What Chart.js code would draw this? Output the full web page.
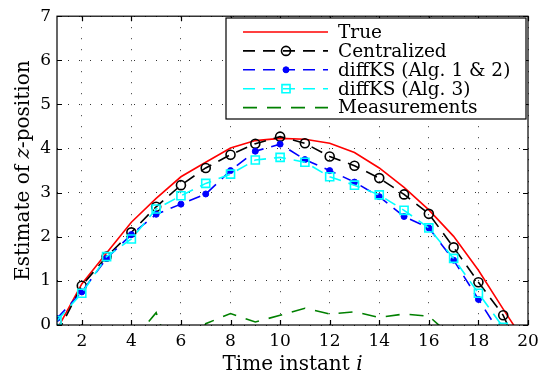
<!DOCTYPE html>
<html>
<head>
<meta charset="utf-8">
<script src="https://cdn.jsdelivr.net/npm/chart.js@4.4.0/dist/chart.umd.min.js"></script>
<style>
body { margin: 0; background: #fff; }
#wrap { width: 546px; height: 376px; }
</style>
</head>
<body>
<div id="wrap"><canvas id="myChart"></canvas></div>
<script>
// time instants and estimates
const steps = [1, 2, 3, 4, 5, 6, 7, 8, 9, 10, 11, 12, 13, 14, 15, 16, 17, 18, 19, 20]
const trueZ = [-0.1, 0.93, 1.63, 2.33, 2.87, 3.36, 3.69, 4.01, 4.18, 4.23, 4.21, 4.12, 3.91, 3.56, 3.12, 2.61, 2.01, 1.24, 0.36, -0.5]
const centralized = [-0.2, 0.89, 1.55, 2.10, 2.68, 3.17, 3.56, 3.86, 4.11, 4.27, 4.12, 3.82, 3.61, 3.33, 2.96, 2.52, 1.76, 0.97, 0.22, -1.0]
const diffKS12 = [0.15, 0.75, 1.51, 2.05, 2.51, 2.74, 2.97, 3.50, 3.94, 4.10, 3.75, 3.50, 3.24, 2.91, 2.46, 2.20, 1.47, 0.58, -0.3, -1.1]
const diffKS3 = [0.10, 0.72, 1.55, 1.95, 2.63, 2.93, 3.21, 3.42, 3.74, 3.80, 3.69, 3.36, 3.17, 2.95, 2.60, 2.20, 1.51, 0.72, -0.05, -0.9]
const measurements = [-0.6, -1.1, -0.9, -0.4, 0.28, -1.3, 0.03, 0.26, 0.07, 0.22, 0.38, 0.25, 0.30, 0.17, 0.25, 0.20, -0.3, -0.9, -1.2, -1.0]

const xTicks = [2, 4, 6, 8, 10, 12, 14, 16, 18, 20]
const yTicks = [0, 1, 2, 3, 4, 5, 6, 7]

const serif = '"DejaVu Serif", serif'
const pts = (vals) => steps.map((s, i) => ({ x: s, y: vals[i] }))
const dash = [12, 8]

// box round the axes with inward tick marks, like matlab
const frameTicks = {
    id: 'frameTicks',
    afterDatasetsDraw(chart) {
        const { ctx, chartArea: a, scales: { x, y } } = chart
        ctx.save()
        ctx.strokeStyle = '#000'
        ctx.lineWidth = 1.2
        ctx.strokeRect(a.left, a.top, a.right - a.left, a.bottom - a.top)
        ctx.beginPath()
        xTicks.forEach(v => {
            const px = Math.round(x.getPixelForValue(v)) + 0.5
            ctx.moveTo(px, a.bottom); ctx.lineTo(px, a.bottom - 5)
            ctx.moveTo(px, a.top); ctx.lineTo(px, a.top + 5)
        })
        yTicks.forEach(v => {
            const py = Math.round(y.getPixelForValue(v)) + 0.5
            ctx.moveTo(a.left, py); ctx.lineTo(a.left + 5, py)
            ctx.moveTo(a.right, py); ctx.lineTo(a.right - 5, py)
        })
        ctx.stroke()
        ctx.restore()
    }
}

// legend box inside the axes + axis titles with italic symbols
const boxLegend = {
    id: 'boxLegend',
    afterDraw(chart) {
        const { ctx } = chart
        const bx = 226, by = 18, bw = 300, bh = 101
        ctx.save()
        ctx.fillStyle = '#fff'
        ctx.fillRect(bx, by, bw, bh)
        ctx.strokeStyle = '#000'
        ctx.lineWidth = 1.2
        ctx.strokeRect(bx, by, bw, bh)

        ctx.font = '18.5px ' + serif
        ctx.textBaseline = 'middle'
        chart.data.datasets.forEach((ds, i) => {
            const ry = 32 + i * 18.9
            ctx.strokeStyle = ds.borderColor
            ctx.lineWidth = ds.borderWidth
            ctx.setLineDash(ds.borderDash || [])
            ctx.beginPath()
            ctx.moveTo(243, ry); ctx.lineTo(328, ry)
            ctx.stroke()
            ctx.setLineDash([])
            if (ds.pointRadius > 0) {
                ctx.fillStyle = ds.pointBackgroundColor
                ctx.lineWidth = ds.pointBorderWidth
                Chart.helpers.drawPoint(ctx, {
                    pointStyle: ds.pointStyle, radius: ds.pointRadius,
                    borderWidth: ds.pointBorderWidth, rotation: 0
                }, 286, ry)
            }
            ctx.fillStyle = '#000'
            ctx.fillText(ds.label, 338, ry + 1)
        })

        // x title
        const a = chart.chartArea
        const tf = '20px ' + serif
        ctx.font = tf
        ctx.textBaseline = 'alphabetic'
        const p1 = 'Time instant '
        const w1 = ctx.measureText(p1).width
        ctx.font = 'italic ' + tf
        const w2 = ctx.measureText('i').width
        let sx = (a.left + a.right) / 2 - (w1 + w2) / 2
        ctx.font = tf
        ctx.fillText(p1, sx, 370)
        ctx.font = 'italic ' + tf
        ctx.fillText('i', sx + w1, 370)

        // y title
        const parts = [['Estimate of ', ''], ['z', 'italic '], ['-position', '']]
        let total = 0
        parts.forEach(p => { ctx.font = p[1] + tf; p.push(ctx.measureText(p[0]).width); total += p[2] })
        ctx.translate(29, (a.top + a.bottom) / 2)
        ctx.rotate(-Math.PI / 2)
        let tx = -total / 2
        parts.forEach(p => {
            ctx.font = p[1] + tf
            ctx.fillText(p[0], tx, 0)
            tx += p[2]
        })
        ctx.restore()
    }
}

const ctx = document.getElementById('myChart')

new Chart(ctx, {
    type: 'line',
    data: {
        datasets: [{
            label: 'True',
            data: pts(trueZ),
            borderColor: '#ff0000',
            borderWidth: 1.6,
            pointRadius: 0,
            order: 5,
        }, {
            label: 'Centralized',
            data: pts(centralized),
            borderColor: '#000000',
            borderWidth: 1.6,
            borderDash: dash,
            pointStyle: 'circle',
            pointRadius: 4.5,
            pointBorderWidth: 1.6,
            pointBorderColor: '#000000',
            pointBackgroundColor: 'rgba(0,0,0,0)',
            order: 4,
        }, {
            label: 'diffKS (Alg. 1 & 2)',
            data: pts(diffKS12),
            borderColor: '#0000ff',
            borderWidth: 1.6,
            borderDash: dash,
            pointStyle: 'circle',
            pointRadius: 3,
            pointBorderWidth: 1,
            pointBorderColor: '#0000ff',
            pointBackgroundColor: '#0000ff',
            order: 3,
        }, {
            label: 'diffKS (Alg. 3)',
            data: pts(diffKS3),
            borderColor: '#00ffff',
            borderWidth: 1.6,
            borderDash: dash,
            pointStyle: 'rect',
            pointRadius: 5.7,
            pointBorderWidth: 1.6,
            pointBorderColor: '#00ffff',
            pointBackgroundColor: 'rgba(0,0,0,0)',
            order: 2,
        }, {
            label: 'Measurements',
            data: pts(measurements),
            borderColor: '#008000',
            borderWidth: 1.6,
            borderDash: [14, 10],
            pointRadius: 0,
            order: 1,
        }],
    },
    options: {
        responsive: true,
        maintainAspectRatio: false,
        animation: false,
        events: [],
        layout: { padding: { top: 12, right: 18, left: 0, bottom: 0 } },
        plugins: { legend: { display: false }, tooltip: { enabled: false } },
        scales: {
            x: {
                type: 'linear',
                min: 1,
                max: 20,
                afterBuildTicks: (s) => { s.ticks = xTicks.map(v => ({ value: v })) },
                afterFit: (s) => { s.height = 51 },
                grid: { color: '#333', lineWidth: 1, drawTicks: false },
                border: { display: false, dash: [1, 10] },
                ticks: { color: '#000', padding: 6, maxRotation: 0, font: { family: serif, size: 17 } },
            },
            y: {
                min: 0,
                max: 7,
                afterBuildTicks: (s) => { s.ticks = yTicks.map(v => ({ value: v })) },
                afterFit: (s) => { s.width = 57 },
                grid: { color: '#333', lineWidth: 1, drawTicks: false },
                border: { display: false, dash: [1, 10] },
                ticks: { color: '#000', padding: 6, font: { family: serif, size: 17 } },
            }
        }
    },
    plugins: [frameTicks, boxLegend]
});
</script>
</body>
</html>
